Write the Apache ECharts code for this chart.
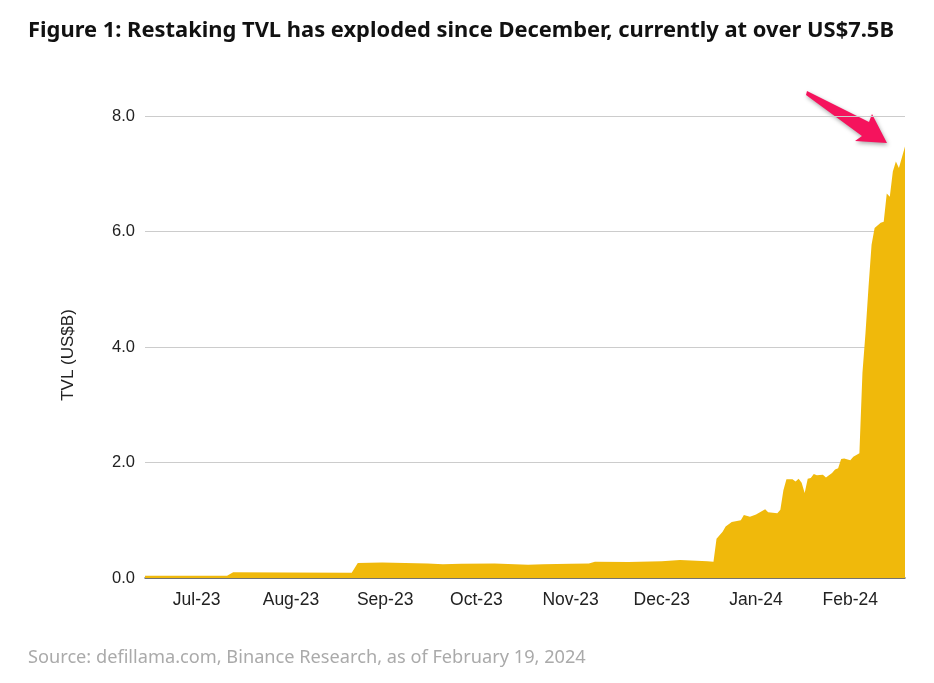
<!DOCTYPE html>
<html>
<head>
<meta charset="utf-8">
<script src="https://cdn.jsdelivr.net/npm/echarts@6/dist/echarts.min.js"></script>
<style>
  html, body { margin: 0; padding: 0; background: #fff; }
  #chart { width: 934px; height: 683px; }
</style>
</head>
<body>
<div id="chart"></div>
<script>
// restaking TVL, US$B
var dates = ['2023-06-14', '2023-07-11', '2023-07-13', '2023-07-31', '2023-08-21', '2023-08-23',
  '2023-08-31', '2023-09-15', '2023-09-20', '2023-09-26', '2023-10-07', '2023-10-18',
  '2023-10-23', '2023-11-01', '2023-11-07', '2023-11-09', '2023-11-20', '2023-12-01',
  '2023-12-07', '2023-12-16', '2023-12-18', '2023-12-19', '2023-12-21', '2023-12-22',
  '2023-12-24', '2023-12-27', '2023-12-28', '2023-12-30', '2024-01-01', '2024-01-04',
  '2024-01-05', '2024-01-08', '2024-01-09', '2024-01-10', '2024-01-11', '2024-01-13',
  '2024-01-14', '2024-01-15', '2024-01-16', '2024-01-17', '2024-01-18', '2024-01-19',
  '2024-01-20', '2024-01-21', '2024-01-23', '2024-01-24', '2024-01-26', '2024-01-27',
  '2024-01-28', '2024-01-29', '2024-01-30', '2024-02-01', '2024-02-02', '2024-02-04',
  '2024-02-05', '2024-02-06', '2024-02-07', '2024-02-08', '2024-02-09', '2024-02-11',
  '2024-02-12', '2024-02-13', '2024-02-14', '2024-02-15', '2024-02-16', '2024-02-17',
  '2024-02-19'];
var tvl = [0.04, 0.04, 0.10, 0.095, 0.09, 0.26,
  0.27, 0.25, 0.24, 0.245, 0.25, 0.23,
  0.24, 0.245, 0.25, 0.28, 0.275, 0.29,
  0.31, 0.29, 0.28, 0.68, 0.80, 0.89,
  0.97, 1.00, 1.09, 1.06, 1.10, 1.19,
  1.14, 1.12, 1.18, 1.52, 1.71, 1.71,
  1.67, 1.72, 1.65, 1.47, 1.72, 1.73,
  1.80, 1.78, 1.79, 1.74, 1.82, 1.88,
  1.90, 2.06, 2.07, 2.04, 2.10, 2.16,
  3.55, 4.24, 5.04, 5.77, 6.06, 6.15,
  6.17, 6.66, 6.60, 7.04, 7.21, 7.10,
  7.47];
var monthNames = ['Jan', 'Feb', 'Mar', 'Apr', 'May', 'Jun', 'Jul', 'Aug', 'Sep', 'Oct', 'Nov', 'Dec'];

var chart = echarts.init(document.getElementById('chart'));

var seriesData = [];
for (var i = 0; i < dates.length; i++) {
  seriesData.push([dates[i], tvl[i]]);
}

var option = {
  animation: false,
  title: {
    text: 'Figure 1: Restaking TVL has exploded since December, currently at over US$7.5B',
    left: 23,
    top: 15,
    textStyle: {
      fontFamily: 'Noto Sans',
      fontWeight: 'bold',
      fontSize: 21.9,
      color: '#111'
    }
  },
  grid: {
    left: 145,
    right: 29,
    top: 116,
    bottom: 105
  },
  xAxis: {
    type: 'time',
    min: '2023-06-14',
    max: '2024-02-19',
    splitNumber: 8,
    axisLine: { lineStyle: { color: '#555', width: 1.5 } },
    axisTick: { show: false },
    splitLine: { show: false },
    axisLabel: {
      color: '#222',
      fontFamily: 'Liberation Sans',
      fontSize: 17.5,
      margin: 13,
      formatter: function (val) {
        var d = new Date(val);
        return monthNames[d.getMonth()] + '-' + String(d.getFullYear()).slice(2);
      }
    }
  },
  yAxis: {
    type: 'value',
    min: 0,
    max: 8,
    interval: 2,
    name: 'TVL (US$B)',
    nameLocation: 'middle',
    nameGap: 68,
    nameTextStyle: {
      color: '#222',
      fontFamily: 'Liberation Sans',
      fontSize: 17,
      padding: [0, 16, 0, 0]
    },
    axisLine: { show: false },
    axisTick: { show: false },
    axisLabel: {
      color: '#222',
      fontFamily: 'Liberation Sans',
      fontSize: 16.5,
      margin: 10,
      formatter: function (v) { return v.toFixed(1); }
    },
    splitLine: { lineStyle: { color: '#cccccc', width: 1 } }
  },
  series: [{
    type: 'line',
    data: seriesData,
    showSymbol: false,
    lineStyle: { width: 0 },
    itemStyle: { color: '#F0B90B' },
    areaStyle: { color: '#F0B90B', opacity: 1 }
  }],
  graphic: [{
    type: 'polygon',
    shape: {
      points: [[807, 91], [869, 122], [872, 114], [887, 143], [855, 141], [862, 136], [806, 95]]
    },
    style: {
      fill: '#F5135D',
      shadowBlur: 4,
      shadowColor: 'rgba(0,0,0,0.35)',
      shadowOffsetX: 1,
      shadowOffsetY: 2
    }
  }, {
    type: 'text',
    left: 28,
    top: 649,
    style: {
      text: 'Source: defillama.com, Binance Research, as of February 19, 2024',
      fill: '#aaaaaa',
      font: '18.2px "Noto Sans"'
    }
  }]
};

chart.setOption(option);
</script>
</body>
</html>
